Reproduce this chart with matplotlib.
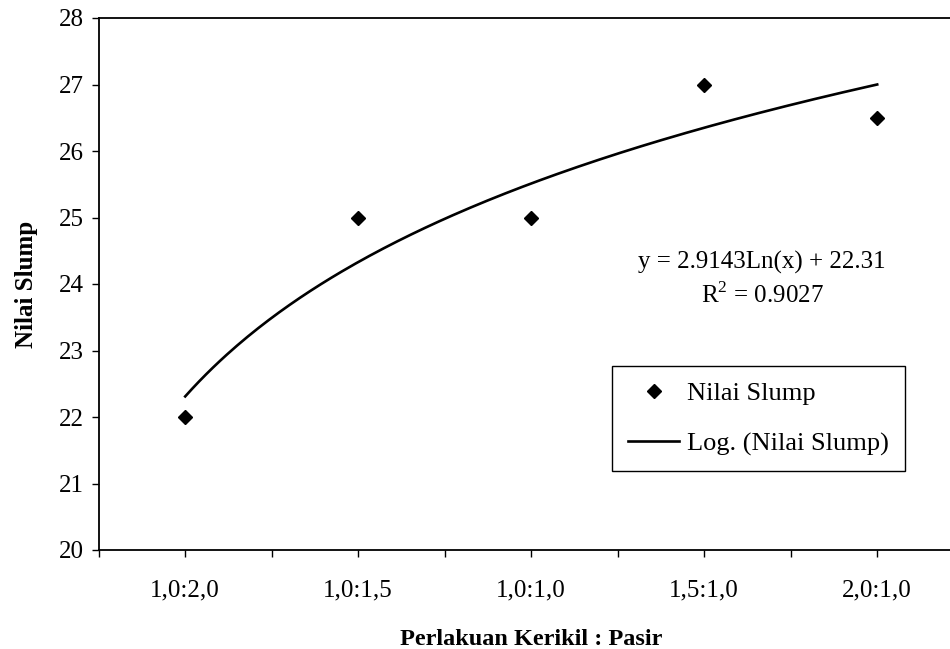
import numpy as np
import matplotlib
matplotlib.use('Agg')
import matplotlib.pyplot as plt

plt.rcParams['font.family'] = ['Liberation Serif', 'DejaVu Serif']
plt.rcParams['mathtext.fontset'] = 'custom'
plt.rcParams['mathtext.rm'] = 'Liberation Serif'

# data
categories = ['1,0:2,0', '1,0:1,5', '1,0:1,0', '1,5:1,0', '2,0:1,0']
slump = [22, 25, 25, 27, 26.5]

xpos = np.arange(1, len(categories) + 1)

# log trendline, fitted like Excel does
a, b = np.polyfit(np.log(xpos), slump, 1)
r2 = 1 - np.sum((np.array(slump) - (a*np.log(xpos) + b))**2) / np.sum((np.array(slump) - np.mean(slump))**2)
xt = np.linspace(1, len(categories), 200)
yt = a*np.log(xt) + b

fig = plt.figure(figsize=(9.5, 6.49), dpi=100)
ax = fig.add_axes([98.7/950, (649-550)/649, 865/950, 532/649])

ax.plot(xpos, slump, 'D', color='black', markersize=7, label='Nilai Slump', zorder=5)
ax.plot(xt, yt, '-', color='black', lw=1.9, label='Log. (Nilai Slump)')

ax.set_xlim(0.5, 5.5)
ax.set_ylim(20, 28)
ax.set_yticks(range(20, 29))
ax.set_xticks(np.arange(0.5, 5.51, 0.5))
ax.set_xticklabels(['' if i % 2 == 0 else categories[i//2] for i in range(11)])
ax.tick_params(axis='both', direction='out', length=5, width=1, labelsize=18, colors='black')
ax.tick_params(axis='x', pad=16)
ax.tick_params(axis='y', pad=6)

for s in ['left', 'bottom', 'top']:
    ax.spines[s].set_linewidth(1.3)
    ax.spines[s].set_color('black')
ax.spines['right'].set_visible(False)

ax.set_ylabel('Nilai Slump', fontsize=18, fontweight='bold', labelpad=15)
ax.set_xlabel('Perlakuan Kerikil : Pasir', fontsize=17.5, fontweight='bold', labelpad=20)

fig.text(762/950, 1-262/649, 'y = %.4fLn(x) + %.2f' % (a, b), ha='center', va='center', fontsize=18)
fig.text(762/950, 1-295/649, r'R$^{2}$ = %.4f' % r2, ha='center', va='center', fontsize=18)

leg = ax.legend(loc='upper left', bbox_to_anchor=(612/950, 1-366/649), bbox_transform=fig.transFigure,
                borderaxespad=0, fancybox=False, edgecolor='black', fontsize=19,
                handlelength=1.95, handletextpad=0.3, borderpad=0.6, labelspacing=1.0, framealpha=1)
leg.get_frame().set_linewidth(1.0)

fig.savefig('out.png', dpi=100)
